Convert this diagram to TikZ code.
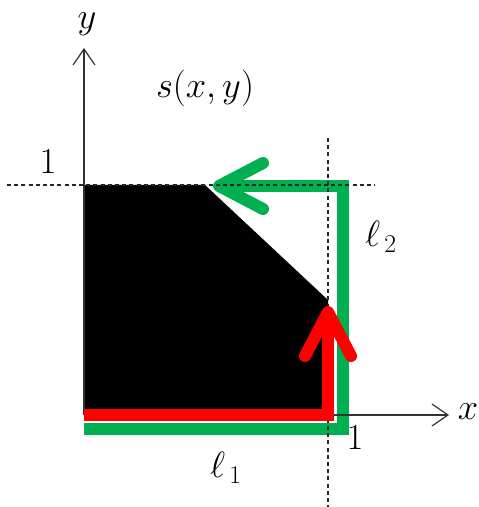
\documentclass[tikz,border=0pt]{standalone}
\usepackage{fix-cm}
\usepackage{xcolor}
\usepackage{tikz}
\usetikzlibrary{arrows.meta, positioning, calc}

\definecolor{pathgreen}{RGB}{0,176,80}
\definecolor{pathred}{RGB}{255,0,0}

\begin{document}
\begin{tikzpicture}[
    x=0.25mm, y=-0.25mm,
    axis/.style={-{Straight Barb[length=4mm, width=5.5mm]}, line width=0.3mm, black!80},
    guide/.style={dashed, line width=0.3mm, dash pattern=on 1mm off 0.8mm, black!85},
    route/.style={-{Straight Barb[length=11mm, width=11.5mm, round, line width=3mm]}, line width=3mm},
    lbl/.style={font=\fontsize{26}{30}\selectfont, inner sep=0pt}
]
\useasboundingbox (0,0) rectangle (478,507);

% Corner points
\coordinate (O) at (84,415);
\coordinate (xend) at (449,415);
\coordinate (yend) at (84,48);
\coordinate (hleft) at (7,185);
\coordinate (hright) at (375,185);
\coordinate (vtop) at (328,138);
\coordinate (vbottom) at (328,507);

% Region s(x,y)
\fill[black] (84,185) -- (205,185) -- (328,300) -- (328,415) -- (84,415) -- cycle;

% Path l1 then l2 (green)
\coordinate (gstart) at (84,429);
\coordinate (gcorner1) at (343,429);
\coordinate (gcorner2) at (343,186);
\coordinate (gtip) at (213,186);
\draw[route, pathgreen] (gstart) -- (gcorner1) -- (gcorner2) -- (gtip);

% Axes
\draw[axis] (O) -- (xend);
\draw[axis] (O) -- (yend);

% Dashed guides at 1
\draw[guide] (hleft) -- (hright);
\draw[guide] (vtop) -- (vbottom);

% Path l1 then up (red)
\coordinate (rstart) at (84,415);
\coordinate (rcorner) at (328,415);
\coordinate (rtip) at (328,306);
\draw[route, pathred] (rstart) -- (rcorner) -- (rtip);

% Labels
\node[lbl] (ylabel) at (87,24) {$y$};
\node[lbl] (xlabel) at (468,412) {$x$};
\node[lbl] (oney) at (48,162) {$1$};
\node[lbl] (onex) at (355,438) {$1$};
\node[lbl] (slabel) at (205,88) {$s(x,y)$};
\node[lbl] (ltwo) at (381,237) {$\ell_{\,2}$};
\node[lbl] (lone) at (226,468) {$\ell_{\,1}$};

\end{tikzpicture}
\end{document}
